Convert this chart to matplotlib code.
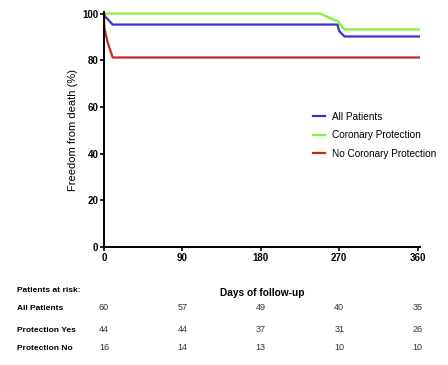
import matplotlib.pyplot as plt

plt.rcParams['font.family'] = ['Liberation Sans', 'DejaVu Sans']

# curve points (days, % free from death)
all_days = [0, 2, 10, 268, 270, 276, 362]
all_surv = [100, 98.5, 95.3, 95.3, 92.5, 90.2, 90.2]
cor_days = [0, 248, 269, 276, 362]
cor_surv = [100, 100, 96.5, 93.2, 93.2]
nocor_days = [0, 0.5, 4, 10, 362]
nocor_surv = [100, 94, 88, 81.2, 81.2]

risk_times = [0, 90, 180, 270, 360]
risk_labels = ['All Patients', 'Protection Yes', 'Protection No']
risk_all = [60, 57, 49, 40, 35]
risk_yes = [44, 44, 37, 31, 26]
risk_no = [16, 14, 13, 10, 10]

fig = plt.figure(figsize=(4.48, 3.65), dpi=100)
ax = fig.add_axes([0.232, 0.323, 0.706, 0.643])

ax.plot(all_days, all_surv, color='#3a32d0', lw=1.6, label='All Patients')
ax.plot(cor_days, cor_surv, color='#88f03a', lw=1.6, label='Coronary Protection')
ax.plot(nocor_days, nocor_surv, color='#c42a2a', lw=1.6, label='No Coronary Protection')

ax.set_xlim(0, 363)
ax.set_ylim(0, 100.5)
ax.set_xticks(risk_times)
ax.set_yticks([0, 20, 40, 60, 80, 100])
for s in ['top', 'right']:
    ax.spines[s].set_visible(False)
for s in ['left', 'bottom']:
    ax.spines[s].set_linewidth(1.4)
ax.tick_params(direction='out', length=3, width=1.2, labelsize=7, pad=1)
for lab in ax.get_xticklabels() + ax.get_yticklabels():
    lab.set_fontweight('bold')

ax.set_ylabel('Freedom from death (%)', fontsize=8, labelpad=3)
ax.set_xlabel('Days of follow-up', fontsize=7.3, fontweight='bold', labelpad=18)

ax.legend(loc='center left', bbox_to_anchor=(0.633, 0.476), frameon=False,
          fontsize=7.2, handlelength=1.2, handletextpad=0.7, labelspacing=0.85)

# risk table
fig.text(17 / 448, 1 - 291 / 365, 'Patients at risk:', fontsize=6,
         fontweight='bold', va='center')
rows = [risk_all, risk_yes, risk_no]
row_y = [308, 330, 348]
for name, vals, py in zip(risk_labels, rows, row_y):
    fig.text(17 / 448, 1 - py / 365, name, fontsize=6, fontweight='bold',
             va='center')
    for t, v in zip(risk_times, vals):
        x_fig = ax.transData.transform((t, 0))[0] / fig.bbox.width
        fig.text(x_fig, 1 - py / 365, str(v), fontsize=6.5, ha='center',
                 va='center', color='#333333')

fig.savefig('out.png', dpi=100)
